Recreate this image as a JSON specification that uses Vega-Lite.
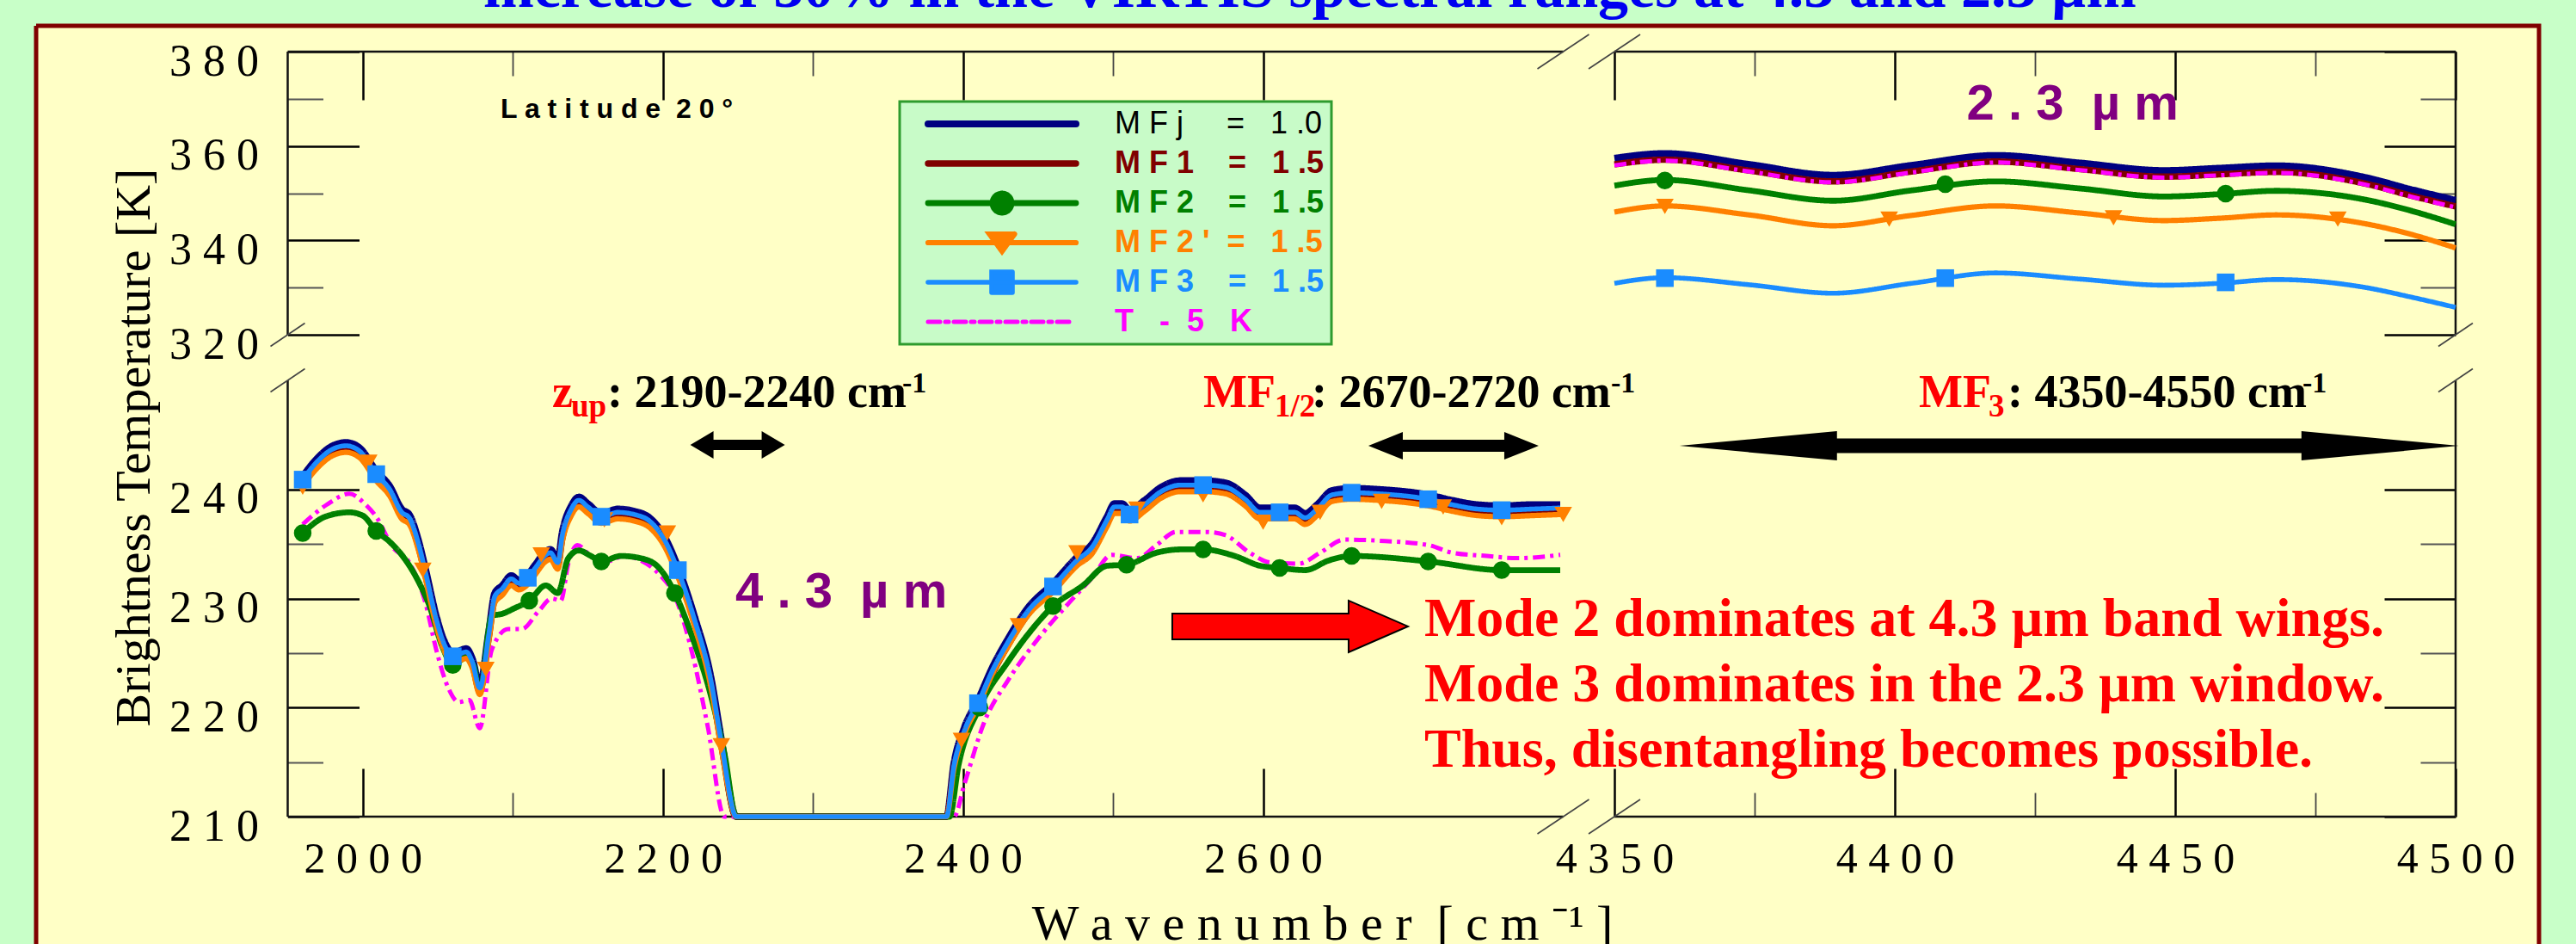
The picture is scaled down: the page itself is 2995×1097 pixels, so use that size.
{
"$schema": "https://vega.github.io/schema/vega-lite/v6.json",
"width": 2910,
"height": 1067,
"autosize": {"type": "none"},
"padding": {"left": 42, "top": 30, "right": 43, "bottom": 0},
"background": "#c8ffc8",
"title": {"text": "increase of 30% in the VIRTIS spectral ranges at 4.3 and 2.3 µm", "font": "Liberation Sans Narrow", "fontSize": 70, "fontWeight": "bold", "color": "#0000f0", "anchor": "middle", "frame": "group", "baseline": "alphabetic", "offset": 2, "dx": 26, "dy": 50},
"config": {
  "view": {"fill": "#ffffc6", "stroke": "#800000", "strokeWidth": 5, "strokeDash": [3977, 2910, 1067, 0]},
  "axis": {"grid": false, "labelFont": "Liberation Serif", "titleFont": "Liberation Serif", "labelColor": "#000", "titleColor": "#000", "titleFontWeight": "normal", "labelFlush": false, "labelOverlap": false, "labelBound": false}
},
"resolve": {"axis": {"x": "independent", "y": "independent"}},
"layer": [
{
  "data": {"values": [
    {"x":1950,"x2":2800,"y":210,"y2":210},{"x":4350,"x2":4500,"y":210,"y2":210},
    {"x":1950,"x2":2800,"y":380,"y2":380},{"x":4350,"x2":4500,"y":380,"y2":380},
    {"x":1950,"x2":1950,"y":210,"y2":250},{"x":1950,"x2":1950,"y":320,"y2":380},
    {"x":4500,"x2":4500,"y":210,"y2":250},{"x":4500,"x2":4500,"y":320,"y2":380}]},
  "mark": {"type": "rule", "color": "#111", "strokeWidth": 2.5},
  "encoding": {
    "x": {"field": "x", "type": "quantitative", "scale": {"domain": [1950, 2800, 4350, 4500], "range": [292.5, 1775.5, 1835, 2813], "nice": false, "zero": false},
      "axis": {"orient": "top", "offset": -30, "values": [2000,2100,2200,2300,2400,2500,2600,4350,4375,4400,4425,4450,4475,4500], "labels": false, "domain": false, "ticks": true, "title": null,
        "tickSize": {"condition": {"test": "(datum.value < 3000 && datum.value % 200 == 0) || (datum.value > 4000 && datum.value % 50 == 0)", "value": -56}, "value": -28},
        "tickColor": {"condition": {"test": "(datum.value < 3000 && datum.value % 200 == 0) || (datum.value > 4000 && datum.value % 50 == 0)", "value": "#000"}, "value": "#444"},
        "tickWidth": {"condition": {"test": "(datum.value < 3000 && datum.value % 200 == 0) || (datum.value > 4000 && datum.value % 50 == 0)", "value": 2.5}, "value": 1.8}}},
    "x2": {"field": "x2"},
    "y": {"field": "y", "type": "quantitative", "scale": {"domain": [210, 250, 320, 380], "range": [919, 412, 359, 30], "nice": false, "zero": false},
      "axis": {"orient": "right", "offset": -97, "values": [210,215,220,225,230,235,240,320,330,340,350,360,370,380], "labels": false, "domain": false, "ticks": true, "title": null,
        "tickSize": {"condition": {"test": "(datum.value < 300 && datum.value % 10 == 0) || (datum.value > 300 && datum.value % 20 == 0)", "value": -83}, "value": -41},
        "tickColor": {"condition": {"test": "(datum.value < 300 && datum.value % 10 == 0) || (datum.value > 300 && datum.value % 20 == 0)", "value": "#000"}, "value": "#555"},
        "tickWidth": {"condition": {"test": "(datum.value < 300 && datum.value % 10 == 0) || (datum.value > 300 && datum.value % 20 == 0)", "value": 2.5}, "value": 1.8}}},
    "y2": {"field": "y2"}
  }
},
{
  "data": {"values": [
{"s":"MFj","r":"4.3","x":1960,"y":241.2},{"s":"MFj","r":"4.3","x":1970,"y":242.9},{"s":"MFj","r":"4.3","x":1980,"y":244.0},{"s":"MFj","r":"4.3","x":1989,"y":244.3},{"s":"MFj","r":"4.3","x":1998,"y":243.8},{"s":"MFj","r":"4.3","x":2009,"y":241.7},{"s":"MFj","r":"4.3","x":2018,"y":240.3},{"s":"MFj","r":"4.3","x":2026,"y":238.2},{"s":"MFj","r":"4.3","x":2031,"y":237.7},{"s":"MFj","r":"4.3","x":2037,"y":235.4},{"s":"MFj","r":"4.3","x":2042,"y":232.6},{"s":"MFj","r":"4.3","x":2049,"y":228.4},{"s":"MFj","r":"4.3","x":2055,"y":225.9},{"s":"MFj","r":"4.3","x":2060,"y":225.0},{"s":"MFj","r":"4.3","x":2069,"y":225.4},{"s":"MFj","r":"4.3","x":2073,"y":224.5},{"s":"MFj","r":"4.3","x":2078,"y":222.1},{"s":"MFj","r":"4.3","x":2084,"y":227.0},{"s":"MFj","r":"4.3","x":2088,"y":230.5},{"s":"MFj","r":"4.3","x":2093,"y":231.2},{"s":"MFj","r":"4.3","x":2099,"y":232.1},{"s":"MFj","r":"4.3","x":2104,"y":231.7},{"s":"MFj","r":"4.3","x":2110,"y":232.2},{"s":"MFj","r":"4.3","x":2115,"y":233.1},{"s":"MFj","r":"4.3","x":2122,"y":234.3},{"s":"MFj","r":"4.3","x":2125,"y":234.5},{"s":"MFj","r":"4.3","x":2130,"y":233.6},{"s":"MFj","r":"4.3","x":2133,"y":236.1},{"s":"MFj","r":"4.3","x":2139,"y":238.5},{"s":"MFj","r":"4.3","x":2144,"y":239.3},{"s":"MFj","r":"4.3","x":2150,"y":238.7},{"s":"MFj","r":"4.3","x":2159,"y":237.8},{"s":"MFj","r":"4.3","x":2170,"y":238.2},{"s":"MFj","r":"4.3","x":2181,"y":238.0},{"s":"MFj","r":"4.3","x":2192,"y":237.3},{"s":"MFj","r":"4.3","x":2201,"y":235.7},{"s":"MFj","r":"4.3","x":2210,"y":232.9},{"s":"MFj","r":"4.3","x":2221,"y":228.4},{"s":"MFj","r":"4.3","x":2232,"y":222.8},{"s":"MFj","r":"4.3","x":2239,"y":217.1},{"s":"MFj","r":"4.3","x":2249,"y":210},{"s":"MFj","r":"4.3","x":2320,"y":210},{"s":"MFj","r":"4.3","x":2389,"y":210},{"s":"MFj","r":"4.3","x":2394,"y":214.9},{"s":"MFj","r":"4.3","x":2401,"y":218.2},{"s":"MFj","r":"4.3","x":2410,"y":220.7},{"s":"MFj","r":"4.3","x":2420,"y":223.8},{"s":"MFj","r":"4.3","x":2430,"y":226.3},{"s":"MFj","r":"4.3","x":2443,"y":229.1},{"s":"MFj","r":"4.3","x":2460,"y":231.4},{"s":"MFj","r":"4.3","x":2476,"y":233.8},{"s":"MFj","r":"4.3","x":2486,"y":235.0},{"s":"MFj","r":"4.3","x":2496,"y":237.5},{"s":"MFj","r":"4.3","x":2501,"y":238.7},{"s":"MFj","r":"4.3","x":2506,"y":238.7},{"s":"MFj","r":"4.3","x":2511,"y":238.1},{"s":"MFj","r":"4.3","x":2521,"y":239.0},{"s":"MFj","r":"4.3","x":2532,"y":240.2},{"s":"MFj","r":"4.3","x":2545,"y":240.8},{"s":"MFj","r":"4.3","x":2560,"y":240.8},{"s":"MFj","r":"4.3","x":2575,"y":240.6},{"s":"MFj","r":"4.3","x":2588,"y":239.5},{"s":"MFj","r":"4.3","x":2598,"y":238.3},{"s":"MFj","r":"4.3","x":2611,"y":238.3},{"s":"MFj","r":"4.3","x":2621,"y":238.3},{"s":"MFj","r":"4.3","x":2628,"y":237.8},{"s":"MFj","r":"4.3","x":2636,"y":238.6},{"s":"MFj","r":"4.3","x":2646,"y":239.9},{"s":"MFj","r":"4.3","x":2659,"y":240.1},{"s":"MFj","r":"4.3","x":2677,"y":240.0},{"s":"MFj","r":"4.3","x":2710,"y":239.5},{"s":"MFj","r":"4.3","x":2726,"y":239.0},{"s":"MFj","r":"4.3","x":2743,"y":238.6},{"s":"MFj","r":"4.3","x":2759,"y":238.5},{"s":"MFj","r":"4.3","x":2779,"y":238.6},{"s":"MFj","r":"4.3","x":2798,"y":238.6},
{"s":"MFj","r":"2.3","x":4350,"y":357.4},{"s":"MFj","r":"2.3","x":4359,"y":358.4},{"s":"MFj","r":"2.3","x":4374,"y":356.1},{"s":"MFj","r":"2.3","x":4389,"y":353.8},{"s":"MFj","r":"2.3","x":4403,"y":355.9},{"s":"MFj","r":"2.3","x":4418,"y":358.0},{"s":"MFj","r":"2.3","x":4433,"y":356.4},{"s":"MFj","r":"2.3","x":4448,"y":354.8},{"s":"MFj","r":"2.3","x":4458,"y":355.3},{"s":"MFj","r":"2.3","x":4468,"y":355.8},{"s":"MFj","r":"2.3","x":4484,"y":353.3},{"s":"MFj","r":"2.3","x":4492,"y":350.8},{"s":"MFj","r":"2.3","x":4500,"y":348.5},
{"s":"MF1","r":"4.3","x":1960,"y":240.6},{"s":"MF1","r":"4.3","x":1970,"y":242.3},{"s":"MF1","r":"4.3","x":1980,"y":243.4},{"s":"MF1","r":"4.3","x":1989,"y":243.7},{"s":"MF1","r":"4.3","x":1998,"y":243.2},{"s":"MF1","r":"4.3","x":2009,"y":241.1},{"s":"MF1","r":"4.3","x":2018,"y":239.7},{"s":"MF1","r":"4.3","x":2026,"y":237.6},{"s":"MF1","r":"4.3","x":2031,"y":237.1},{"s":"MF1","r":"4.3","x":2037,"y":234.8},{"s":"MF1","r":"4.3","x":2042,"y":232.0},{"s":"MF1","r":"4.3","x":2049,"y":227.8},{"s":"MF1","r":"4.3","x":2055,"y":225.3},{"s":"MF1","r":"4.3","x":2060,"y":224.4},{"s":"MF1","r":"4.3","x":2069,"y":224.8},{"s":"MF1","r":"4.3","x":2073,"y":223.9},{"s":"MF1","r":"4.3","x":2078,"y":221.5},{"s":"MF1","r":"4.3","x":2084,"y":226.4},{"s":"MF1","r":"4.3","x":2088,"y":229.9},{"s":"MF1","r":"4.3","x":2093,"y":230.6},{"s":"MF1","r":"4.3","x":2099,"y":231.5},{"s":"MF1","r":"4.3","x":2104,"y":231.1},{"s":"MF1","r":"4.3","x":2110,"y":231.6},{"s":"MF1","r":"4.3","x":2115,"y":232.5},{"s":"MF1","r":"4.3","x":2122,"y":233.7},{"s":"MF1","r":"4.3","x":2125,"y":233.9},{"s":"MF1","r":"4.3","x":2130,"y":233.0},{"s":"MF1","r":"4.3","x":2133,"y":235.5},{"s":"MF1","r":"4.3","x":2139,"y":237.9},{"s":"MF1","r":"4.3","x":2144,"y":238.7},{"s":"MF1","r":"4.3","x":2150,"y":238.1},{"s":"MF1","r":"4.3","x":2159,"y":237.2},{"s":"MF1","r":"4.3","x":2170,"y":237.6},{"s":"MF1","r":"4.3","x":2181,"y":237.4},{"s":"MF1","r":"4.3","x":2192,"y":236.7},{"s":"MF1","r":"4.3","x":2201,"y":235.1},{"s":"MF1","r":"4.3","x":2210,"y":232.3},{"s":"MF1","r":"4.3","x":2221,"y":227.8},{"s":"MF1","r":"4.3","x":2232,"y":222.2},{"s":"MF1","r":"4.3","x":2239,"y":216.5},{"s":"MF1","r":"4.3","x":2249,"y":210},{"s":"MF1","r":"4.3","x":2320,"y":210},{"s":"MF1","r":"4.3","x":2389,"y":210},{"s":"MF1","r":"4.3","x":2394,"y":214.4},{"s":"MF1","r":"4.3","x":2401,"y":217.6},{"s":"MF1","r":"4.3","x":2410,"y":220.1},{"s":"MF1","r":"4.3","x":2420,"y":223.2},{"s":"MF1","r":"4.3","x":2430,"y":225.7},{"s":"MF1","r":"4.3","x":2443,"y":228.5},{"s":"MF1","r":"4.3","x":2460,"y":230.8},{"s":"MF1","r":"4.3","x":2476,"y":233.2},{"s":"MF1","r":"4.3","x":2486,"y":234.4},{"s":"MF1","r":"4.3","x":2496,"y":236.9},{"s":"MF1","r":"4.3","x":2501,"y":238.1},{"s":"MF1","r":"4.3","x":2506,"y":238.1},{"s":"MF1","r":"4.3","x":2511,"y":237.4},{"s":"MF1","r":"4.3","x":2521,"y":238.3},{"s":"MF1","r":"4.3","x":2532,"y":239.5},{"s":"MF1","r":"4.3","x":2545,"y":240.1},{"s":"MF1","r":"4.3","x":2560,"y":240.1},{"s":"MF1","r":"4.3","x":2575,"y":239.9},{"s":"MF1","r":"4.3","x":2588,"y":238.8},{"s":"MF1","r":"4.3","x":2598,"y":237.6},{"s":"MF1","r":"4.3","x":2611,"y":237.6},{"s":"MF1","r":"4.3","x":2621,"y":237.6},{"s":"MF1","r":"4.3","x":2628,"y":237.1},{"s":"MF1","r":"4.3","x":2636,"y":237.9},{"s":"MF1","r":"4.3","x":2646,"y":239.2},{"s":"MF1","r":"4.3","x":2659,"y":239.4},{"s":"MF1","r":"4.3","x":2677,"y":239.3},{"s":"MF1","r":"4.3","x":2710,"y":238.8},{"s":"MF1","r":"4.3","x":2726,"y":238.3},{"s":"MF1","r":"4.3","x":2743,"y":237.9},{"s":"MF1","r":"4.3","x":2759,"y":237.8},{"s":"MF1","r":"4.3","x":2779,"y":237.9},{"s":"MF1","r":"4.3","x":2798,"y":238.0},
{"s":"MF1","r":"2.3","x":4350,"y":356.1},{"s":"MF1","r":"2.3","x":4359,"y":357.1},{"s":"MF1","r":"2.3","x":4374,"y":354.8},{"s":"MF1","r":"2.3","x":4389,"y":352.5},{"s":"MF1","r":"2.3","x":4403,"y":354.6},{"s":"MF1","r":"2.3","x":4418,"y":356.7},{"s":"MF1","r":"2.3","x":4433,"y":355.1},{"s":"MF1","r":"2.3","x":4448,"y":353.5},{"s":"MF1","r":"2.3","x":4458,"y":354.0},{"s":"MF1","r":"2.3","x":4468,"y":354.5},{"s":"MF1","r":"2.3","x":4484,"y":352.0},{"s":"MF1","r":"2.3","x":4492,"y":349.5},{"s":"MF1","r":"2.3","x":4500,"y":347.2},
{"s":"T-5K","r":"4.3","x":1960,"y":236.8},{"s":"T-5K","r":"4.3","x":1976,"y":238.6},{"s":"T-5K","r":"4.3","x":1991,"y":239.6},{"s":"T-5K","r":"4.3","x":2002,"y":238.6},{"s":"T-5K","r":"4.3","x":2009,"y":237.5},{"s":"T-5K","r":"4.3","x":2020,"y":234.7},{"s":"T-5K","r":"4.3","x":2031,"y":233.3},{"s":"T-5K","r":"4.3","x":2042,"y":229.5},{"s":"T-5K","r":"4.3","x":2049,"y":225.3},{"s":"T-5K","r":"4.3","x":2057,"y":221.8},{"s":"T-5K","r":"4.3","x":2064,"y":220.5},{"s":"T-5K","r":"4.3","x":2071,"y":220.7},{"s":"T-5K","r":"4.3","x":2078,"y":218.1},{"s":"T-5K","r":"4.3","x":2086,"y":225.3},{"s":"T-5K","r":"4.3","x":2097,"y":227.2},{"s":"T-5K","r":"4.3","x":2106,"y":227.2},{"s":"T-5K","r":"4.3","x":2117,"y":228.8},{"s":"T-5K","r":"4.3","x":2126,"y":230.0},{"s":"T-5K","r":"4.3","x":2132,"y":229.8},{"s":"T-5K","r":"4.3","x":2137,"y":233.2},{"s":"T-5K","r":"4.3","x":2143,"y":234.9},{"s":"T-5K","r":"4.3","x":2152,"y":233.9},{"s":"T-5K","r":"4.3","x":2163,"y":233.4},{"s":"T-5K","r":"4.3","x":2174,"y":233.9},{"s":"T-5K","r":"4.3","x":2185,"y":233.5},{"s":"T-5K","r":"4.3","x":2197,"y":232.3},{"s":"T-5K","r":"4.3","x":2208,"y":230.2},{"s":"T-5K","r":"4.3","x":2219,"y":225.3},{"s":"T-5K","r":"4.3","x":2230,"y":218.2},{"s":"T-5K","r":"4.3","x":2241,"y":210},{"s":"T-5K","r":"4.3","x":2320,"y":210},{"s":"T-5K","r":"4.3","x":2394,"y":210},{"s":"T-5K","r":"4.3","x":2401,"y":213.0},{"s":"T-5K","r":"4.3","x":2414,"y":218.6},{"s":"T-5K","r":"4.3","x":2430,"y":222.5},{"s":"T-5K","r":"4.3","x":2450,"y":226.3},{"s":"T-5K","r":"4.3","x":2470,"y":229.5},{"s":"T-5K","r":"4.3","x":2486,"y":231.9},{"s":"T-5K","r":"4.3","x":2499,"y":234.0},{"s":"T-5K","r":"4.3","x":2516,"y":233.7},{"s":"T-5K","r":"4.3","x":2529,"y":234.9},{"s":"T-5K","r":"4.3","x":2542,"y":236.1},{"s":"T-5K","r":"4.3","x":2562,"y":236.1},{"s":"T-5K","r":"4.3","x":2575,"y":235.8},{"s":"T-5K","r":"4.3","x":2591,"y":234.2},{"s":"T-5K","r":"4.3","x":2605,"y":233.3},{"s":"T-5K","r":"4.3","x":2624,"y":233.2},{"s":"T-5K","r":"4.3","x":2638,"y":234.2},{"s":"T-5K","r":"4.3","x":2654,"y":235.4},{"s":"T-5K","r":"4.3","x":2677,"y":235.3},{"s":"T-5K","r":"4.3","x":2710,"y":234.9},{"s":"T-5K","r":"4.3","x":2726,"y":234.2},{"s":"T-5K","r":"4.3","x":2749,"y":233.9},{"s":"T-5K","r":"4.3","x":2769,"y":233.7},{"s":"T-5K","r":"4.3","x":2798,"y":234.0},
{"s":"T-5K","r":"2.3","x":4350,"y":355.9},{"s":"T-5K","r":"2.3","x":4359,"y":356.9},{"s":"T-5K","r":"2.3","x":4374,"y":354.6},{"s":"T-5K","r":"2.3","x":4389,"y":352.3},{"s":"T-5K","r":"2.3","x":4403,"y":354.4},{"s":"T-5K","r":"2.3","x":4418,"y":356.5},{"s":"T-5K","r":"2.3","x":4433,"y":354.9},{"s":"T-5K","r":"2.3","x":4448,"y":353.3},{"s":"T-5K","r":"2.3","x":4458,"y":353.8},{"s":"T-5K","r":"2.3","x":4468,"y":354.3},{"s":"T-5K","r":"2.3","x":4484,"y":351.8},{"s":"T-5K","r":"2.3","x":4492,"y":349.3},{"s":"T-5K","r":"2.3","x":4500,"y":347.0},
{"s":"MF2","r":"4.3","x":1960,"y":236.0},{"s":"MF2","r":"4.3","x":1975,"y":237.5},{"s":"MF2","r":"4.3","x":1991,"y":237.9},{"s":"MF2","r":"4.3","x":2000,"y":237.6},{"s":"MF2","r":"4.3","x":2009,"y":236.2},{"s":"MF2","r":"4.3","x":2018,"y":235.2},{"s":"MF2","r":"4.3","x":2026,"y":234.0},{"s":"MF2","r":"4.3","x":2037,"y":231.6},{"s":"MF2","r":"4.3","x":2044,"y":229.5},{"s":"MF2","r":"4.3","x":2053,"y":225.6},{"s":"MF2","r":"4.3","x":2060,"y":223.9},{"s":"MF2","r":"4.3","x":2069,"y":224.6},{"s":"MF2","r":"4.3","x":2074,"y":223.8},{"s":"MF2","r":"4.3","x":2078,"y":221.4},{"s":"MF2","r":"4.3","x":2086,"y":228.4},{"s":"MF2","r":"4.3","x":2093,"y":228.6},{"s":"MF2","r":"4.3","x":2101,"y":229.1},{"s":"MF2","r":"4.3","x":2111,"y":229.8},{"s":"MF2","r":"4.3","x":2122,"y":231.2},{"s":"MF2","r":"4.3","x":2130,"y":230.5},{"s":"MF2","r":"4.3","x":2137,"y":233.7},{"s":"MF2","r":"4.3","x":2144,"y":234.4},{"s":"MF2","r":"4.3","x":2152,"y":233.9},{"s":"MF2","r":"4.3","x":2159,"y":233.4},{"s":"MF2","r":"4.3","x":2172,"y":233.9},{"s":"MF2","r":"4.3","x":2185,"y":233.7},{"s":"MF2","r":"4.3","x":2196,"y":233.0},{"s":"MF2","r":"4.3","x":2208,"y":230.5},{"s":"MF2","r":"4.3","x":2219,"y":226.7},{"s":"MF2","r":"4.3","x":2232,"y":221.1},{"s":"MF2","r":"4.3","x":2241,"y":215.8},{"s":"MF2","r":"4.3","x":2249,"y":210},{"s":"MF2","r":"4.3","x":2320,"y":210},{"s":"MF2","r":"4.3","x":2391,"y":210},{"s":"MF2","r":"4.3","x":2397,"y":214.7},{"s":"MF2","r":"4.3","x":2411,"y":220.0},{"s":"MF2","r":"4.3","x":2430,"y":224.2},{"s":"MF2","r":"4.3","x":2445,"y":227.0},{"s":"MF2","r":"4.3","x":2460,"y":229.3},{"s":"MF2","r":"4.3","x":2480,"y":231.2},{"s":"MF2","r":"4.3","x":2496,"y":233.0},{"s":"MF2","r":"4.3","x":2509,"y":233.1},{"s":"MF2","r":"4.3","x":2529,"y":234.2},{"s":"MF2","r":"4.3","x":2545,"y":234.5},{"s":"MF2","r":"4.3","x":2560,"y":234.5},{"s":"MF2","r":"4.3","x":2581,"y":233.9},{"s":"MF2","r":"4.3","x":2598,"y":233.0},{"s":"MF2","r":"4.3","x":2611,"y":232.8},{"s":"MF2","r":"4.3","x":2628,"y":232.6},{"s":"MF2","r":"4.3","x":2644,"y":233.5},{"s":"MF2","r":"4.3","x":2659,"y":233.9},{"s":"MF2","r":"4.3","x":2710,"y":233.4},{"s":"MF2","r":"4.3","x":2759,"y":232.6},{"s":"MF2","r":"4.3","x":2798,"y":232.6},
{"s":"MF2","r":"2.3","x":4350,"y":351.6},{"s":"MF2","r":"2.3","x":4359,"y":352.8},{"s":"MF2","r":"2.3","x":4374,"y":350.6},{"s":"MF2","r":"2.3","x":4389,"y":348.4},{"s":"MF2","r":"2.3","x":4403,"y":350.6},{"s":"MF2","r":"2.3","x":4418,"y":352.5},{"s":"MF2","r":"2.3","x":4433,"y":351.0},{"s":"MF2","r":"2.3","x":4448,"y":349.3},{"s":"MF2","r":"2.3","x":4458,"y":349.8},{"s":"MF2","r":"2.3","x":4468,"y":350.5},{"s":"MF2","r":"2.3","x":4484,"y":348.6},{"s":"MF2","r":"2.3","x":4492,"y":346.3},{"s":"MF2","r":"2.3","x":4500,"y":343.4},
{"s":"MF2'","r":"4.3","x":1960,"y":240.3},{"s":"MF2'","r":"4.3","x":1970,"y":242.0},{"s":"MF2'","r":"4.3","x":1980,"y":243.1},{"s":"MF2'","r":"4.3","x":1989,"y":243.4},{"s":"MF2'","r":"4.3","x":1998,"y":242.9},{"s":"MF2'","r":"4.3","x":2009,"y":240.8},{"s":"MF2'","r":"4.3","x":2018,"y":239.4},{"s":"MF2'","r":"4.3","x":2026,"y":237.3},{"s":"MF2'","r":"4.3","x":2031,"y":236.8},{"s":"MF2'","r":"4.3","x":2037,"y":234.5},{"s":"MF2'","r":"4.3","x":2042,"y":231.7},{"s":"MF2'","r":"4.3","x":2049,"y":227.5},{"s":"MF2'","r":"4.3","x":2055,"y":225.0},{"s":"MF2'","r":"4.3","x":2060,"y":224.1},{"s":"MF2'","r":"4.3","x":2069,"y":224.5},{"s":"MF2'","r":"4.3","x":2073,"y":223.6},{"s":"MF2'","r":"4.3","x":2078,"y":221.2},{"s":"MF2'","r":"4.3","x":2084,"y":226.1},{"s":"MF2'","r":"4.3","x":2088,"y":229.6},{"s":"MF2'","r":"4.3","x":2093,"y":230.3},{"s":"MF2'","r":"4.3","x":2099,"y":231.2},{"s":"MF2'","r":"4.3","x":2104,"y":230.8},{"s":"MF2'","r":"4.3","x":2110,"y":231.3},{"s":"MF2'","r":"4.3","x":2115,"y":232.2},{"s":"MF2'","r":"4.3","x":2122,"y":233.4},{"s":"MF2'","r":"4.3","x":2125,"y":233.6},{"s":"MF2'","r":"4.3","x":2130,"y":232.7},{"s":"MF2'","r":"4.3","x":2133,"y":235.2},{"s":"MF2'","r":"4.3","x":2139,"y":237.6},{"s":"MF2'","r":"4.3","x":2144,"y":238.4},{"s":"MF2'","r":"4.3","x":2150,"y":237.8},{"s":"MF2'","r":"4.3","x":2159,"y":236.9},{"s":"MF2'","r":"4.3","x":2170,"y":237.3},{"s":"MF2'","r":"4.3","x":2181,"y":237.1},{"s":"MF2'","r":"4.3","x":2192,"y":236.4},{"s":"MF2'","r":"4.3","x":2201,"y":234.8},{"s":"MF2'","r":"4.3","x":2210,"y":232.0},{"s":"MF2'","r":"4.3","x":2221,"y":227.5},{"s":"MF2'","r":"4.3","x":2232,"y":221.9},{"s":"MF2'","r":"4.3","x":2239,"y":216.2},{"s":"MF2'","r":"4.3","x":2249,"y":210},{"s":"MF2'","r":"4.3","x":2320,"y":210},{"s":"MF2'","r":"4.3","x":2389,"y":210},{"s":"MF2'","r":"4.3","x":2394,"y":214.4},{"s":"MF2'","r":"4.3","x":2401,"y":217.6},{"s":"MF2'","r":"4.3","x":2410,"y":220.1},{"s":"MF2'","r":"4.3","x":2420,"y":223.2},{"s":"MF2'","r":"4.3","x":2430,"y":225.6},{"s":"MF2'","r":"4.3","x":2443,"y":228.4},{"s":"MF2'","r":"4.3","x":2460,"y":230.6},{"s":"MF2'","r":"4.3","x":2476,"y":233.0},{"s":"MF2'","r":"4.3","x":2486,"y":234.1},{"s":"MF2'","r":"4.3","x":2496,"y":236.6},{"s":"MF2'","r":"4.3","x":2501,"y":237.8},{"s":"MF2'","r":"4.3","x":2506,"y":237.8},{"s":"MF2'","r":"4.3","x":2511,"y":237.1},{"s":"MF2'","r":"4.3","x":2521,"y":238.0},{"s":"MF2'","r":"4.3","x":2532,"y":239.2},{"s":"MF2'","r":"4.3","x":2545,"y":239.8},{"s":"MF2'","r":"4.3","x":2560,"y":239.8},{"s":"MF2'","r":"4.3","x":2575,"y":239.6},{"s":"MF2'","r":"4.3","x":2588,"y":238.5},{"s":"MF2'","r":"4.3","x":2598,"y":237.3},{"s":"MF2'","r":"4.3","x":2611,"y":237.3},{"s":"MF2'","r":"4.3","x":2621,"y":237.3},{"s":"MF2'","r":"4.3","x":2628,"y":236.8},{"s":"MF2'","r":"4.3","x":2636,"y":237.6},{"s":"MF2'","r":"4.3","x":2646,"y":238.9},{"s":"MF2'","r":"4.3","x":2659,"y":239.1},{"s":"MF2'","r":"4.3","x":2677,"y":239.0},{"s":"MF2'","r":"4.3","x":2710,"y":238.5},{"s":"MF2'","r":"4.3","x":2726,"y":238.0},{"s":"MF2'","r":"4.3","x":2743,"y":237.6},{"s":"MF2'","r":"4.3","x":2759,"y":237.5},{"s":"MF2'","r":"4.3","x":2779,"y":237.6},{"s":"MF2'","r":"4.3","x":2798,"y":237.7},
{"s":"MF2'","r":"2.3","x":4350,"y":346.0},{"s":"MF2'","r":"2.3","x":4359,"y":347.3},{"s":"MF2'","r":"2.3","x":4374,"y":345.4},{"s":"MF2'","r":"2.3","x":4389,"y":343.1},{"s":"MF2'","r":"2.3","x":4403,"y":345.3},{"s":"MF2'","r":"2.3","x":4418,"y":347.3},{"s":"MF2'","r":"2.3","x":4433,"y":345.8},{"s":"MF2'","r":"2.3","x":4448,"y":344.2},{"s":"MF2'","r":"2.3","x":4458,"y":344.7},{"s":"MF2'","r":"2.3","x":4468,"y":345.4},{"s":"MF2'","r":"2.3","x":4484,"y":343.5},{"s":"MF2'","r":"2.3","x":4492,"y":341.3},{"s":"MF2'","r":"2.3","x":4500,"y":338.4},
{"s":"MF3","r":"4.3","x":1960,"y":240.9},{"s":"MF3","r":"4.3","x":1970,"y":242.6},{"s":"MF3","r":"4.3","x":1980,"y":243.7},{"s":"MF3","r":"4.3","x":1989,"y":244.0},{"s":"MF3","r":"4.3","x":1998,"y":243.5},{"s":"MF3","r":"4.3","x":2009,"y":241.4},{"s":"MF3","r":"4.3","x":2018,"y":240.0},{"s":"MF3","r":"4.3","x":2026,"y":237.9},{"s":"MF3","r":"4.3","x":2031,"y":237.4},{"s":"MF3","r":"4.3","x":2037,"y":235.1},{"s":"MF3","r":"4.3","x":2042,"y":232.3},{"s":"MF3","r":"4.3","x":2049,"y":228.1},{"s":"MF3","r":"4.3","x":2055,"y":225.6},{"s":"MF3","r":"4.3","x":2060,"y":224.7},{"s":"MF3","r":"4.3","x":2069,"y":225.1},{"s":"MF3","r":"4.3","x":2073,"y":224.2},{"s":"MF3","r":"4.3","x":2078,"y":221.8},{"s":"MF3","r":"4.3","x":2084,"y":226.7},{"s":"MF3","r":"4.3","x":2088,"y":230.2},{"s":"MF3","r":"4.3","x":2093,"y":230.9},{"s":"MF3","r":"4.3","x":2099,"y":231.8},{"s":"MF3","r":"4.3","x":2104,"y":231.4},{"s":"MF3","r":"4.3","x":2110,"y":231.9},{"s":"MF3","r":"4.3","x":2115,"y":232.8},{"s":"MF3","r":"4.3","x":2122,"y":234.0},{"s":"MF3","r":"4.3","x":2125,"y":234.2},{"s":"MF3","r":"4.3","x":2130,"y":233.3},{"s":"MF3","r":"4.3","x":2133,"y":235.8},{"s":"MF3","r":"4.3","x":2139,"y":238.2},{"s":"MF3","r":"4.3","x":2144,"y":239.0},{"s":"MF3","r":"4.3","x":2150,"y":238.4},{"s":"MF3","r":"4.3","x":2159,"y":237.5},{"s":"MF3","r":"4.3","x":2170,"y":237.9},{"s":"MF3","r":"4.3","x":2181,"y":237.7},{"s":"MF3","r":"4.3","x":2192,"y":237.0},{"s":"MF3","r":"4.3","x":2201,"y":235.4},{"s":"MF3","r":"4.3","x":2210,"y":232.6},{"s":"MF3","r":"4.3","x":2221,"y":228.1},{"s":"MF3","r":"4.3","x":2232,"y":222.5},{"s":"MF3","r":"4.3","x":2239,"y":216.8},{"s":"MF3","r":"4.3","x":2249,"y":210},{"s":"MF3","r":"4.3","x":2320,"y":210},{"s":"MF3","r":"4.3","x":2389,"y":210},{"s":"MF3","r":"4.3","x":2394,"y":214.7},{"s":"MF3","r":"4.3","x":2401,"y":217.9},{"s":"MF3","r":"4.3","x":2410,"y":220.4},{"s":"MF3","r":"4.3","x":2420,"y":223.5},{"s":"MF3","r":"4.3","x":2430,"y":226.0},{"s":"MF3","r":"4.3","x":2443,"y":228.8},{"s":"MF3","r":"4.3","x":2460,"y":231.1},{"s":"MF3","r":"4.3","x":2476,"y":233.5},{"s":"MF3","r":"4.3","x":2486,"y":234.7},{"s":"MF3","r":"4.3","x":2496,"y":237.2},{"s":"MF3","r":"4.3","x":2501,"y":238.4},{"s":"MF3","r":"4.3","x":2506,"y":238.4},{"s":"MF3","r":"4.3","x":2511,"y":237.7},{"s":"MF3","r":"4.3","x":2521,"y":238.6},{"s":"MF3","r":"4.3","x":2532,"y":239.8},{"s":"MF3","r":"4.3","x":2545,"y":240.4},{"s":"MF3","r":"4.3","x":2560,"y":240.4},{"s":"MF3","r":"4.3","x":2575,"y":240.2},{"s":"MF3","r":"4.3","x":2588,"y":239.1},{"s":"MF3","r":"4.3","x":2598,"y":237.9},{"s":"MF3","r":"4.3","x":2611,"y":237.9},{"s":"MF3","r":"4.3","x":2621,"y":237.9},{"s":"MF3","r":"4.3","x":2628,"y":237.4},{"s":"MF3","r":"4.3","x":2636,"y":238.2},{"s":"MF3","r":"4.3","x":2646,"y":239.5},{"s":"MF3","r":"4.3","x":2659,"y":239.7},{"s":"MF3","r":"4.3","x":2677,"y":239.6},{"s":"MF3","r":"4.3","x":2710,"y":239.1},{"s":"MF3","r":"4.3","x":2726,"y":238.6},{"s":"MF3","r":"4.3","x":2743,"y":238.2},{"s":"MF3","r":"4.3","x":2759,"y":238.1},{"s":"MF3","r":"4.3","x":2779,"y":238.2},{"s":"MF3","r":"4.3","x":2798,"y":238.3},
{"s":"MF3","r":"2.3","x":4350,"y":330.9},{"s":"MF3","r":"2.3","x":4359,"y":332.1},{"s":"MF3","r":"2.3","x":4374,"y":330.6},{"s":"MF3","r":"2.3","x":4389,"y":328.8},{"s":"MF3","r":"2.3","x":4403,"y":330.9},{"s":"MF3","r":"2.3","x":4418,"y":333.1},{"s":"MF3","r":"2.3","x":4433,"y":331.8},{"s":"MF3","r":"2.3","x":4448,"y":330.5},{"s":"MF3","r":"2.3","x":4458,"y":330.9},{"s":"MF3","r":"2.3","x":4468,"y":331.7},{"s":"MF3","r":"2.3","x":4484,"y":330.0},{"s":"MF3","r":"2.3","x":4492,"y":328.0},{"s":"MF3","r":"2.3","x":4500,"y":325.8}
  ]},
  "mark": {"type": "line", "interpolate": "monotone", "strokeJoin": "round"},
  "encoding": {
    "x": {"field": "x", "type": "quantitative", "scale": {"domain": [1950, 2800, 4350, 4500], "range": [292.5, 1775.5, 1835, 2813], "nice": false, "zero": false},
      "axis": {"orient": "bottom", "offset": -148, "values": [2000,2200,2400,2600,4350,4400,4450,4500], "ticks": false, "domain": false, "labelFontSize": 50, "labelPadding": 64, "labelBaseline": "alphabetic", "labelExpr": "join(split(toString(datum.value), ''), ' ')",
        "title": "W a v e n u m b e r\u00a0 [ c m ⁻¹ ]", "titleFontSize": 58, "titleX": 1495, "titleY": 142, "titleBaseline": "alphabetic", "titleAlign": "center", "titleAngle": 0}},
    "y": {"field": "y", "type": "quantitative", "scale": {"domain": [210, 250, 320, 380], "range": [919, 412, 359, 30], "nice": false, "zero": false},
      "axis": {"orient": "left", "offset": -292.5, "values": [210,220,230,240,320,340,360,380], "ticks": false, "domain": false, "labelFontSize": 52, "labelPadding": 34, "labelBaseline": "alphabetic", "labelOffset": 27, "labelAlign": "right", "labelExpr": "join(split(toString(datum.value), ''), ' ')",
        "title": "Brightness Temperature [K]", "titleFontSize": 58, "titleX": -161.5, "titleY": 489.5, "titleBaseline": "alphabetic", "titleAlign": "center", "titleAngle": 270}},
    "color": {"field": "s", "type": "nominal",
      "scale": {"domain": ["MFj", "MF1", "MF2", "MF2'", "MF3", "T-5K"], "range": ["#000080", "#800000", "#008000", "#ff8000", "#1a8cff", "#ff00ff"]},
      "legend": {"title": null, "orient": "none", "legendX": 1004, "legendY": 88, "direction": "vertical",
        "fillColor": "#c8fbc8", "strokeColor": "#2e9b2e", "padding": 8,
        "labelFont": "Liberation Sans", "labelFontSize": 36, "labelColor": "#000", "labelOffset": 206, "labelLimit": 800,
        "rowPadding": 10, "clipHeight": 36, "symbolSize": 400, "symbolStrokeWidth": 7,
        "labelExpr": "datum.value === 'MFj' ? 'M\u00a0F\u00a0j\u00a0\u00a0\u00a0\u00a0\u00a0=\u00a0\u00a0\u00a01\u00a0.0\u00a0\u00a0\u00a0\u00a0\u00a0' : datum.value === 'MF1' ? 'M\u00a0F\u00a01\u00a0\u00a0\u00a0\u00a0=\u00a0\u00a0\u00a01\u00a0.5\u00a0\u00a0\u00a0\u00a0\u00a0' : datum.value === 'MF2' ? 'M\u00a0F\u00a02\u00a0\u00a0\u00a0\u00a0=\u00a0\u00a0\u00a01\u00a0.5\u00a0\u00a0\u00a0\u00a0\u00a0' : datum.value === 'MF3' ? 'M\u00a0F\u00a03\u00a0\u00a0\u00a0\u00a0=\u00a0\u00a0\u00a01\u00a0.5\u00a0\u00a0\u00a0\u00a0\u00a0' : datum.value === 'T-5K' ? 'T\u00a0\u00a0\u00a0-\u00a0\u00a05\u00a0\u00a0\u00a0K' : \"M\u00a0F\u00a02\u00a0'\u00a0\u00a0=\u00a0\u00a0\u00a01\u00a0.5\u00a0\u00a0\u00a0\u00a0\u00a0\"",
        "encode": {
          "legend": {"update": {"strokeWidth": {"value": 3}}},
          "symbols": {"update": {
            "shape": {"signal": "datum.value === 'MF2' ? 'M0.7,0H17.9M8.2,0A1.1,1.1,0,1,1,10.4,0A1.1,1.1,0,1,1,8.2,0Z' : datum.value === 'MF3' ? 'M0.7,0H17.9M8.1,-1.2H10.5V1.2H8.1Z' : (datum.value === 'MFj' || datum.value === 'MF1') ? 'M0.7,0H17.9' : datum.value === 'T-5K' ? 'M0.7,0H17.2' : 'M0.7,0H17.9M7.85,-1H10.75L9.3,1Z'"},
            "fill": {"signal": "scale('color', datum.value)"},
            "stroke": {"signal": "scale('color', datum.value)"},
            "strokeWidth": {"signal": "datum.value === 'MFj' ? 10 : datum.value === 'T-5K' ? 4 : 7"},
            "strokeDash": {"signal": "datum.value === 'T-5K' ? [16, 8, 5, 8] : null"},
            "strokeCap": {"value": "round"},
            "opacity": {"value": 1}}},
          "labels": {"update": {
            "fill": {"signal": "datum.value === 'MFj' ? '#000' : scale('color', datum.value)"},
            "fontWeight": {"signal": "datum.value === 'MFj' ? 'normal' : 'bold'"}}}
        }}},
    "detail": {"field": "r", "type": "nominal"},
    "strokeWidth": {"field": "s", "type": "ordinal", "scale": {"domain": ["MFj", "MF1", "MF2", "MF2'", "MF3", "T-5K"], "range": [8, 5, 4, 4.5, 5, 4]}, "legend": null},
    "strokeDash": {"field": "s", "type": "nominal", "scale": {"domain": ["MFj", "MF1", "MF2", "MF2'", "MF3", "T-5K"], "range": [[1, 0], [1, 0], [1, 0], [1, 0], [1, 0], [14, 6, 4, 6]]}, "legend": null}
  }
},
{
  "data": {"values": [
{"s":"MF2'","x":1960,"y":240.2},{"s":"MF2'","x":2004,"y":242.5},{"s":"MF2'","x":2040,"y":232.6},{"s":"MF2'","x":2082,"y":223.5},{"s":"MF2'","x":2119,"y":234.0},{"s":"MF2'","x":2161,"y":237.2},{"s":"MF2'","x":2203,"y":236.0},{"s":"MF2'","x":2239,"y":216.5},{"s":"MF2'","x":2399,"y":217.0},{"s":"MF2'","x":2437,"y":227.5},{"s":"MF2'","x":2476,"y":234.2},{"s":"MF2'","x":2516,"y":238.2},{"s":"MF2'","x":2560,"y":239.5},{"s":"MF2'","x":2600,"y":237.0},{"s":"MF2'","x":2638,"y":237.9},{"s":"MF2'","x":2679,"y":238.9},{"s":"MF2'","x":2720,"y":238.4},{"s":"MF2'","x":2759,"y":237.4},{"s":"MF2'","x":2800,"y":237.7},{"s":"MF2'","x":4359,"y":347.2},{"s":"MF2'","x":4399,"y":344.5},{"s":"MF2'","x":4439,"y":344.8},{"s":"MF2'","x":4479,"y":344.5},
{"s":"MF2","x":1960,"y":236.0},{"s":"MF2","x":2009,"y":236.2},{"s":"MF2","x":2060,"y":223.9},{"s":"MF2","x":2111,"y":229.8},{"s":"MF2","x":2159,"y":233.4},{"s":"MF2","x":2208,"y":230.5},{"s":"MF2","x":2411,"y":220.0},{"s":"MF2","x":2460,"y":229.3},{"s":"MF2","x":2509,"y":233.1},{"s":"MF2","x":2560,"y":234.5},{"s":"MF2","x":2611,"y":232.8},{"s":"MF2","x":2659,"y":233.9},{"s":"MF2","x":2710,"y":233.4},{"s":"MF2","x":2759,"y":232.6},{"s":"MF2","x":4359,"y":352.7},{"s":"MF2","x":4409,"y":351.9},{"s":"MF2","x":4459,"y":349.9},
{"s":"MF3","x":1960,"y":240.9},{"s":"MF3","x":2009,"y":241.4},{"s":"MF3","x":2060,"y":224.7},{"s":"MF3","x":2110,"y":231.9},{"s":"MF3","x":2159,"y":237.5},{"s":"MF3","x":2210,"y":232.6},{"s":"MF3","x":2410,"y":220.4},{"s":"MF3","x":2460,"y":231.1},{"s":"MF3","x":2511,"y":237.7},{"s":"MF3","x":2560,"y":240.4},{"s":"MF3","x":2611,"y":237.9},{"s":"MF3","x":2659,"y":239.7},{"s":"MF3","x":2710,"y":239.1},{"s":"MF3","x":2759,"y":238.1},{"s":"MF3","x":4359,"y":332.0},{"s":"MF3","x":4409,"y":332.0},{"s":"MF3","x":4459,"y":331.1}
  ]},
  "mark": {"type": "point", "filled": true, "opacity": 1, "size": 420},
  "encoding": {
    "x": {"field": "x", "type": "quantitative", "scale": {"domain": [1950, 2800, 4350, 4500], "range": [292.5, 1775.5, 1835, 2813], "nice": false, "zero": false},
      "axis": {"orient": "bottom", "offset": -148, "values": [2000,2100,2200,2300,2400,2500,2600,4350,4375,4400,4425,4450,4475,4500], "labels": false, "domain": false, "ticks": true, "title": null,
        "tickSize": {"condition": {"test": "(datum.value < 3000 && datum.value % 200 == 0) || (datum.value > 4000 && datum.value % 50 == 0)", "value": -56}, "value": -28},
        "tickColor": {"condition": {"test": "(datum.value < 3000 && datum.value % 200 == 0) || (datum.value > 4000 && datum.value % 50 == 0)", "value": "#000"}, "value": "#444"},
        "tickWidth": {"condition": {"test": "(datum.value < 3000 && datum.value % 200 == 0) || (datum.value > 4000 && datum.value % 50 == 0)", "value": 2.5}, "value": 1.8}}},
    "y": {"field": "y", "type": "quantitative", "scale": {"domain": [210, 250, 320, 380], "range": [919, 412, 359, 30], "nice": false, "zero": false},
      "axis": {"orient": "left", "offset": -292.5, "values": [210,215,220,225,230,235,240,320,330,340,350,360,370,380], "labels": false, "domain": false, "ticks": true, "title": null,
        "tickSize": {"condition": {"test": "(datum.value < 300 && datum.value % 10 == 0) || (datum.value > 300 && datum.value % 20 == 0)", "value": -83}, "value": -41},
        "tickColor": {"condition": {"test": "(datum.value < 300 && datum.value % 10 == 0) || (datum.value > 300 && datum.value % 20 == 0)", "value": "#000"}, "value": "#555"},
        "tickWidth": {"condition": {"test": "(datum.value < 300 && datum.value % 10 == 0) || (datum.value > 300 && datum.value % 20 == 0)", "value": 2.5}, "value": 1.8}}},
    "color": {"field": "s", "type": "nominal", "scale": {"domain": ["MFj", "MF1", "MF2", "MF2'", "MF3", "T-5K"], "range": ["#000080", "#800000", "#008000", "#ff8000", "#1a8cff", "#ff00ff"]}, "legend": null},
    "shape": {"field": "s", "type": "nominal", "scale": {"domain": ["MF2", "MF2'", "MF3"], "range": ["circle", "triangle-down", "square"]}, "legend": null}
  }
},
{
  "data": {"values": [{"x":2800,"y":380},{"x":4350,"y":380},{"x":2800,"y":210},{"x":4350,"y":210}]},
  "mark": {"type": "point", "shape": "M-30,20L30,-20", "size": 4, "filled": false, "color": "#444", "strokeWidth": 1.6, "opacity": 1},
  "encoding": {
    "x": {"field": "x", "type": "quantitative", "scale": {"domain": [1950, 2800, 4350, 4500], "range": [292.5, 1775.5, 1835, 2813], "nice": false, "zero": false}, "axis": null},
    "y": {"field": "y", "type": "quantitative", "scale": {"domain": [210, 250, 320, 380], "range": [919, 412, 359, 30], "nice": false, "zero": false}, "axis": null}
  }
},
{
  "data": {"values": [{"x":1950,"y":320},{"x":1950,"y":250},{"x":4500,"y":320},{"x":4500,"y":250}]},
  "mark": {"type": "point", "shape": "M-20,13.5L20,-13.5", "size": 4, "filled": false, "color": "#444", "strokeWidth": 1.6, "opacity": 1},
  "encoding": {
    "x": {"field": "x", "type": "quantitative", "scale": {"domain": [1950, 2800, 4350, 4500], "range": [292.5, 1775.5, 1835, 2813], "nice": false, "zero": false}, "axis": null},
    "y": {"field": "y", "type": "quantitative", "scale": {"domain": [210, 250, 320, 380], "range": [919, 412, 359, 30], "nice": false, "zero": false}, "axis": null}
  }
},
{
  "data": {"values": [{"x":2249.8,"y":244.08}]},
  "mark": {"type": "point", "shape": "M-55,0L-28,-16V-6H28V-16L55,0L28,16V6H-28V16Z", "size": 4, "filled": true, "color": "#000", "opacity": 1},
  "encoding": {
    "x": {"field": "x", "type": "quantitative", "scale": {"domain": [1950, 2800, 4350, 4500], "range": [292.5, 1775.5, 1835, 2813], "nice": false, "zero": false}, "axis": null},
    "y": {"field": "y", "type": "quantitative", "scale": {"domain": [210, 250, 320, 380], "range": [919, 412, 359, 30], "nice": false, "zero": false}, "axis": null}
  }
},
{
  "data": {"values": [{"x":2726.9,"y":244.0}]},
  "mark": {"type": "point", "shape": "M-99,0L-59,-16V-7H59V-16L99,0L59,16V7H-59V16Z", "size": 4, "filled": true, "color": "#000", "opacity": 1},
  "encoding": {
    "x": {"field": "x", "type": "quantitative", "scale": {"domain": [1950, 2800, 4350, 4500], "range": [292.5, 1775.5, 1835, 2813], "nice": false, "zero": false}, "axis": null},
    "y": {"field": "y", "type": "quantitative", "scale": {"domain": [210, 250, 320, 380], "range": [919, 412, 359, 30], "nice": false, "zero": false}, "axis": null}
  }
},
{
  "data": {"values": [{"x":4431.1,"y":244.0}]},
  "mark": {"type": "point", "shape": "M-453,0L-270,-17V-8.5H270V-17L453,0L270,17V8.5H-270V17Z", "size": 4, "filled": true, "color": "#000", "opacity": 1},
  "encoding": {
    "x": {"field": "x", "type": "quantitative", "scale": {"domain": [1950, 2800, 4350, 4500], "range": [292.5, 1775.5, 1835, 2813], "nice": false, "zero": false}, "axis": null},
    "y": {"field": "y", "type": "quantitative", "scale": {"domain": [210, 250, 320, 380], "range": [919, 412, 359, 30], "nice": false, "zero": false}, "axis": null}
  }
},
{
  "data": {"values": [{"x":2618.0,"y":227.44}]},
  "mark": {"type": "point", "shape": "M-137,-15H68V-30L137,0L68,30V15H-137Z", "size": 4, "filled": true, "fill": "#ff0000", "stroke": "#000", "strokeWidth": 2, "opacity": 1},
  "encoding": {
    "x": {"field": "x", "type": "quantitative", "scale": {"domain": [1950, 2800, 4350, 4500], "range": [292.5, 1775.5, 1835, 2813], "nice": false, "zero": false}, "axis": null},
    "y": {"field": "y", "type": "quantitative", "scale": {"domain": [210, 250, 320, 380], "range": [919, 412, 359, 30], "nice": false, "zero": false}, "axis": null}
  }
},
{
  "data": {"values": [{"t":"L a t i t u d e\u00a0 2 0 °","x":2091.9,"y":365.9}]},
  "mark": {"type": "text", "font": "Liberation Sans", "fontSize": 32, "fontWeight": "bold", "color": "#000", "align": "left", "baseline": "alphabetic"},
  "encoding": {
    "x": {"field": "x", "type": "quantitative", "scale": {"domain": [1950, 2800, 4350, 4500], "range": [292.5, 1775.5, 1835, 2813], "nice": false, "zero": false}, "axis": null},
    "y": {"field": "y", "type": "quantitative", "scale": {"domain": [210, 250, 320, 380], "range": [919, 412, 359, 30], "nice": false, "zero": false}, "axis": null},
    "text": {"field": "t"}
  }
},
{
  "data": {"values": [{"t":"2 . 3\u00a0 µ m","x":4431.7,"y":365.6},{"t":"4 . 3\u00a0 µ m","x":2318.9,"y":229.2}]},
  "mark": {"type": "text", "font": "Liberation Sans", "fontSize": 58, "fontWeight": "bold", "color": "#800080", "align": "center", "baseline": "alphabetic"},
  "encoding": {
    "x": {"field": "x", "type": "quantitative", "scale": {"domain": [1950, 2800, 4350, 4500], "range": [292.5, 1775.5, 1835, 2813], "nice": false, "zero": false}, "axis": null},
    "y": {"field": "y", "type": "quantitative", "scale": {"domain": [210, 250, 320, 380], "range": [919, 412, 359, 30], "nice": false, "zero": false}, "axis": null},
    "text": {"field": "t"}
  }
},
{
  "data": {"values": [{"t":"z","x":2126.2,"y":247.55},{"t":"MF","x":2560.1,"y":247.55},{"t":"MF","x":4404.3,"y":247.55}]},
  "mark": {"type": "text", "font": "Liberation Serif", "fontSize": 54, "fontWeight": "bold", "color": "#ff0000", "align": "left", "baseline": "alphabetic"},
  "encoding": {
    "x": {"field": "x", "type": "quantitative", "scale": {"domain": [1950, 2800, 4350, 4500], "range": [292.5, 1775.5, 1835, 2813], "nice": false, "zero": false}, "axis": null},
    "y": {"field": "y", "type": "quantitative", "scale": {"domain": [210, 250, 320, 380], "range": [919, 412, 359, 30], "nice": false, "zero": false}, "axis": null},
    "text": {"field": "t"}
  }
},
{
  "data": {"values": [{"t":"up","x":2138.8,"y":246.69},{"t":"1/2","x":2607.7,"y":246.69},{"t":"3","x":4416.7,"y":246.69}]},
  "mark": {"type": "text", "font": "Liberation Serif", "fontSize": 37, "fontWeight": "bold", "color": "#ff0000", "align": "left", "baseline": "alphabetic"},
  "encoding": {
    "x": {"field": "x", "type": "quantitative", "scale": {"domain": [1950, 2800, 4350, 4500], "range": [292.5, 1775.5, 1835, 2813], "nice": false, "zero": false}, "axis": null},
    "y": {"field": "y", "type": "quantitative", "scale": {"domain": [210, 250, 320, 380], "range": [919, 412, 359, 30], "nice": false, "zero": false}, "axis": null},
    "text": {"field": "t"}
  }
},
{
  "data": {"values": [{"t":": 2190-2240 cm","x":2162.9,"y":247.55},{"t":": 2670-2720 cm","x":2632.3,"y":247.55},{"t":": 4350-4550 cm","x":4420.1,"y":247.55}]},
  "mark": {"type": "text", "font": "Liberation Serif", "fontSize": 54, "fontWeight": "bold", "color": "#000", "align": "left", "baseline": "alphabetic"},
  "encoding": {
    "x": {"field": "x", "type": "quantitative", "scale": {"domain": [1950, 2800, 4350, 4500], "range": [292.5, 1775.5, 1835, 2813], "nice": false, "zero": false}, "axis": null},
    "y": {"field": "y", "type": "quantitative", "scale": {"domain": [210, 250, 320, 380], "range": [919, 412, 359, 30], "nice": false, "zero": false}, "axis": null},
    "text": {"field": "t"}
  }
},
{
  "data": {"values": [{"t":"-1","x":2359.5,"y":248.93},{"t":"-1","x":4245.8,"y":248.93},{"t":"-1","x":4472.7,"y":248.93}]},
  "mark": {"type": "text", "font": "Liberation Serif", "fontSize": 34, "fontWeight": "bold", "color": "#000", "align": "left", "baseline": "alphabetic"},
  "encoding": {
    "x": {"field": "x", "type": "quantitative", "scale": {"domain": [1950, 2800, 4350, 4500], "range": [292.5, 1775.5, 1835, 2813], "nice": false, "zero": false}, "axis": null},
    "y": {"field": "y", "type": "quantitative", "scale": {"domain": [210, 250, 320, 380], "range": [919, 412, 359, 30], "nice": false, "zero": false}, "axis": null},
    "text": {"field": "t"}
  }
},
{
  "data": {"values": [{"t":"Mode 2 dominates at 4.3 µm band wings.","x":2707.4,"y":226.57},{"t":"Mode 3 dominates in the 2.3 µm window.","x":2707.4,"y":220.57},{"t":"Thus, disentangling becomes possible.","x":2707.4,"y":214.58}]},
  "mark": {"type": "text", "font": "Liberation Serif", "fontSize": 64, "fontWeight": "bold", "color": "#ff0000", "align": "left", "baseline": "alphabetic"},
  "encoding": {
    "x": {"field": "x", "type": "quantitative", "scale": {"domain": [1950, 2800, 4350, 4500], "range": [292.5, 1775.5, 1835, 2813], "nice": false, "zero": false}, "axis": null},
    "y": {"field": "y", "type": "quantitative", "scale": {"domain": [210, 250, 320, 380], "range": [919, 412, 359, 30], "nice": false, "zero": false}, "axis": null},
    "text": {"field": "t"}
  }
}
]
}
